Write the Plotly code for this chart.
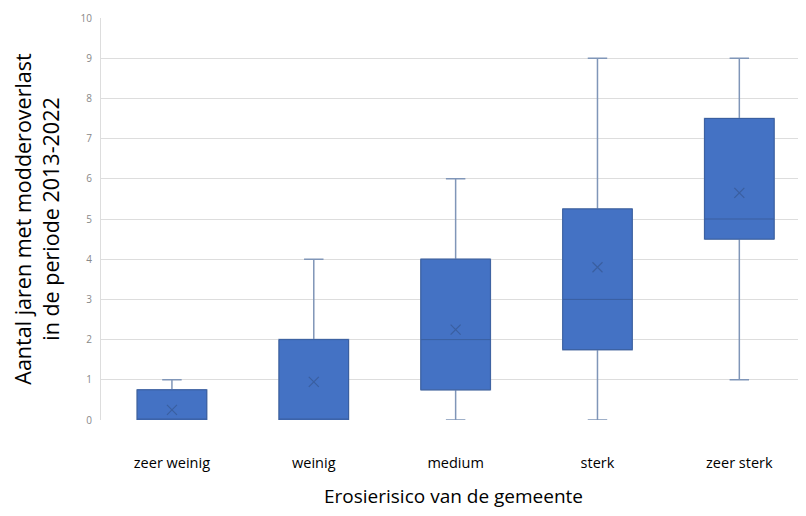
import plotly.graph_objects as go

categories = ["zeer weinig", "weinig", "medium", "sterk", "zeer sterk"]
minimum = [0, 0, 0, 0, 1]
q1 = [0, 0, 0.75, 1.75, 4.5]
median = [0, 0, 2, 3, 5]
q3 = [0.75, 2, 4, 5.25, 7.5]
maximum = [1, 4, 6, 9, 9]
mean = [0.25, 0.95, 2.25, 3.8, 5.65]

y_ticks = list(range(0, 11))

fill = "#4472C4"
whisker = "#8096B8"
dark = "#3A5FA0"

fig = go.Figure()
# whiskers + box
fig.add_trace(go.Box(
    x=categories, q1=q1, median=median, q3=q3,
    lowerfence=minimum, upperfence=maximum,
    fillcolor=fill, line=dict(color=whisker, width=1.5),
    width=0.49, whiskerwidth=0.28, boxpoints=False, hoverinfo="skip",
    showlegend=False,
))
# box body on top with darker outline / median
fig.add_trace(go.Box(
    x=categories, q1=q1, median=median, q3=q3,
    lowerfence=q1, upperfence=q3,
    fillcolor=fill, line=dict(color=dark, width=1),
    width=0.49, whiskerwidth=0, boxpoints=False,
    showlegend=False,
))
fig.add_trace(go.Scatter(
    x=categories, y=mean, mode="markers",
    marker=dict(symbol="x-thin-open", size=10, line=dict(color=dark, width=1.2), color=dark),
    showlegend=False,
))

fig.update_layout(
    width=806, height=516,
    margin=dict(l=93, r=8, t=10, b=104, autoexpand=False),
    paper_bgcolor="white", plot_bgcolor="white",
    boxmode="overlay",
    font=dict(family="Open Sans", color="#000000"),
    xaxis=dict(
        range=[-0.5, 4.47], showgrid=False, showline=False, zeroline=False,
        tickfont=dict(size=14.5, color="#000000"), ticks="outside", ticklen=30,
        tickcolor="rgba(0,0,0,0)",
        title=dict(text="Erosierisico van de gemeente", font=dict(size=19), standoff=18),
    ),
    yaxis=dict(
        range=[0, 10], tickvals=y_ticks, showgrid=True, gridcolor="#DDDDDD", gridwidth=1,
        zeroline=False, showline=True, linecolor="#DDDDDD", ticks="",
        tickfont=dict(size=10, color="#888888"), ticklabelstandoff=6,
        title=dict(text="Aantal jaren met modderoverlast<br>in de periode 2013-2022",
                   font=dict(size=21.5), standoff=26),
    ),
)

fig.write_html("out.html")
